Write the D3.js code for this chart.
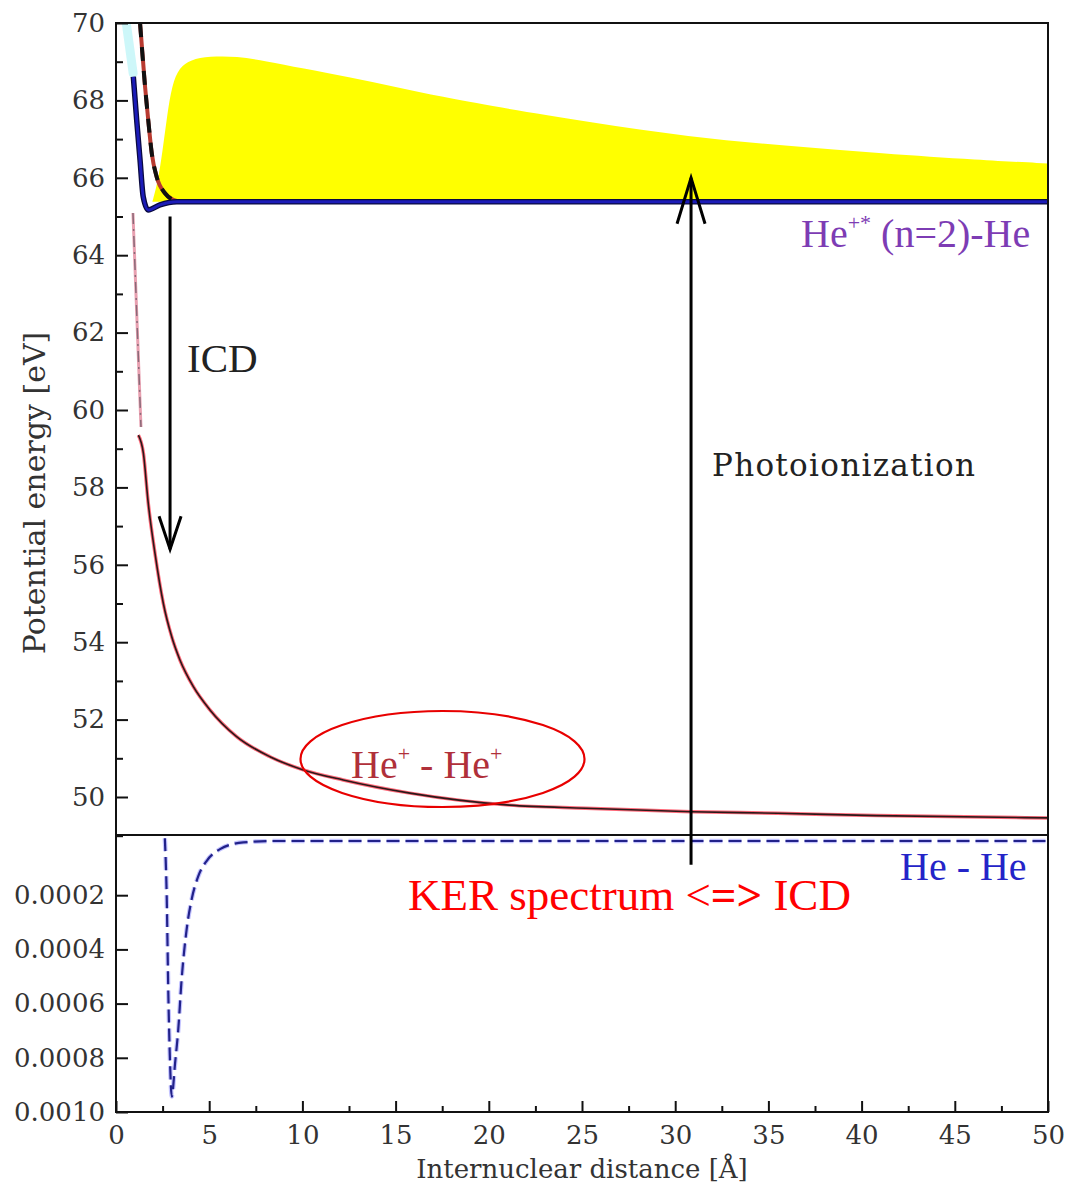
<!DOCTYPE html>
<html>
<head>
<meta charset="utf-8">
<title>He2 ICD potential curves</title>
<script src="https://cdn.jsdelivr.net/npm/d3@7"></script>
<style>
    body { margin: 0; background: #fff; }
    .axis text { font-family: "DejaVu Serif", serif; font-size: 26px; fill: #333; }
    .axis path { display: none; }
    .axis line { stroke: #111; stroke-width: 2; }
    .lbl { font-family: "Liberation Serif", "Times New Roman", serif; }
</style>
</head>
<body>
<script>
// yellow photoionization band (top edge), baseline = plateau level
var bandX   = [1.95, 2.25, 2.5, 2.74, 3.0, 3.4, 4.0, 5.0, 6.5, 8.0, 10.0, 12.5, 15.0, 17.5, 20.3, 25.5, 30.7, 35.9, 41.1, 46.3, 50];
var bandTop = [65.38, 65.9, 66.7, 67.6, 68.4, 68.85, 69.05, 69.14, 69.14, 69.02, 68.83, 68.6, 68.35, 68.09, 67.84, 67.43, 67.06, 66.83, 66.63, 66.46, 66.37];
var plateau = 65.38;

// He+*(n=2)-He (solid blue)
var excX = [0.93, 1.11, 1.29, 1.46, 1.73, 2.36, 3.26, 10, 50];
var excE = [68.61, 67.49, 66.46, 65.51, 65.17, 65.30, 65.38, 65.38, 65.38];

// second excited curve (red/black dashed)
var dshX = [1.29, 1.56, 1.73, 1.92, 2.18, 2.63, 3.07, 3.54, 10, 50];
var dshE = [70.0, 68.35, 67.49, 66.63, 66.03, 65.60, 65.43, 65.38, 65.38, 65.38];

// light cyan trace at the top left
var cyanX = [0.55, 0.75, 0.92];
var cyanE = [70.0, 69.3, 68.7];

// pink dash-dot connector
var linkX = [0.91, 1.34];
var linkE = [65.09, 59.56];

// He+ - He+ Coulomb curve
var coulX = [1.20, 1.47, 1.73, 2.09, 2.54, 2.99, 3.43, 4.15, 5.04, 6.47, 8.26, 10.05, 12.19, 15.77, 21.1, 25.2, 30.87, 35.5, 40.8, 50];
var coulE = [59.35, 58.88, 57.59, 56.30, 55.00, 54.14, 53.54, 52.85, 52.25, 51.56, 51.04, 50.70, 50.44, 50.10, 49.79, 49.71, 49.62, 49.58, 49.52, 49.46];

// He - He ground state (lower panel)
var gndX = [2.62, 2.72, 2.81, 2.90, 2.99, 3.17, 3.34, 3.52, 3.79, 4.06, 4.42, 4.87, 5.58, 6.83, 8.62, 15, 50];
var gndE = [0.00001, -0.000203, -0.000573, -0.00082, -0.000943, -0.00082, -0.000696, -0.000511, -0.000326, -0.000215, -0.000129, -0.000073, -0.00003, -0.000005, 0, 0, 0];

var topTicks = [50, 52, 54, 56, 58, 60, 62, 64, 66, 68, 70];
var topMinor = [49, 51, 53, 55, 57, 59, 61, 63, 65, 67, 69];
var lowTicks = [-0.0002, -0.0004, -0.0006, -0.0008, -0.0010];
var xTicks = [0, 5, 10, 15, 20, 25, 30, 35, 40, 45, 50];
var xMinor = [2.5, 7.5, 12.5, 17.5, 22.5, 27.5, 32.5, 37.5, 42.5, 47.5];

// arrows: [x, from, to]
var icdArrow = [2.9, 65.0, 56.4];
var photoArrow = [30.85, 48.25, 66.0];

(function () {
    var W = 1072, H = 1194;
    var pLeft = 116, pRight = 1048, pTop = 23, pMid = 835, pBottom = 1112;

    var x = d3.scaleLinear().domain([0, 50]).range([pLeft, pRight]);
    var yTop = d3.scaleLinear().domain([50, 70]).range([797, pTop]);
    var yLow = d3.scaleLinear().domain([0, -0.001]).range([841, pBottom]);

    var svg = d3.select("body").append("svg")
        .attr("width", W)
        .attr("height", H);

    var defs = svg.append("defs");
    defs.append("clipPath").attr("id", "clipTop").append("rect")
        .attr("x", pLeft).attr("y", pTop).attr("width", pRight - pLeft).attr("height", pMid - pTop);
    defs.append("clipPath").attr("id", "clipLow").append("rect")
        .attr("x", pLeft).attr("y", pMid).attr("width", pRight - pLeft).attr("height", pBottom - pMid);

    var upper = svg.append("g").attr("clip-path", "url(#clipTop)");
    var lower = svg.append("g").attr("clip-path", "url(#clipLow)");

    function zipped(xs, ys) {
        return xs.map(function (d, i) { return [d, ys[i]]; });
    }

    var lineTop = d3.line()
        .x(function (d) { return x(d[0]); })
        .y(function (d) { return yTop(d[1]); })
        .curve(d3.curveMonotoneX);

    // yellow band
    upper.append("path")
        .datum(zipped(bandX, bandTop))
        .attr("fill", "#ffff00")
        .attr("d", d3.area()
            .x(function (d) { return x(d[0]); })
            .y0(yTop(plateau))
            .y1(function (d) { return yTop(d[1]); })
            .curve(d3.curveBasis));

    // cyan trace
    upper.append("path")
        .datum(zipped(cyanX, cyanE))
        .attr("fill", "none")
        .attr("stroke", "#b8f4f6")
        .attr("stroke-width", 9)
        .attr("stroke-linecap", "round")
        .attr("opacity", 0.7)
        .attr("d", lineTop);

    // pink dash-dot
    upper.append("path")
        .datum(zipped(linkX, linkE))
        .attr("fill", "none")
        .attr("stroke", "#e8a0b0")
        .attr("stroke-width", 3)
        .attr("d", lineTop);
    upper.append("path")
        .datum(zipped(linkX, linkE))
        .attr("fill", "none")
        .attr("stroke", "#8a6a78")
        .attr("stroke-width", 1.5)
        .attr("stroke-dasharray", "11,5,2,5")
        .attr("d", lineTop);

    // Coulomb curve: red under black
    upper.append("path")
        .datum(zipped(coulX, coulE))
        .attr("fill", "none")
        .attr("stroke", "#ff6a7a")
        .attr("stroke-width", 3.5)
        .attr("d", lineTop);
    upper.append("path")
        .datum(zipped(coulX, coulE))
        .attr("fill", "none")
        .attr("stroke", "#2a1a1a")
        .attr("stroke-width", 1.6)
        .attr("d", lineTop);

    // dashed red/black curve
    upper.append("path")
        .datum(zipped(dshX, dshE))
        .attr("fill", "none")
        .attr("stroke", "#b83a30")
        .attr("stroke-width", 4)
        .attr("d", lineTop);
    upper.append("path")
        .datum(zipped(dshX, dshE))
        .attr("fill", "none")
        .attr("stroke", "#111")
        .attr("stroke-width", 4)
        .attr("stroke-dasharray", "14,10")
        .attr("d", lineTop);

    // solid blue curve
    upper.append("path")
        .datum(zipped(excX, excE))
        .attr("fill", "none")
        .attr("stroke", "#0a0a40")
        .attr("stroke-width", 5.5)
        .attr("d", lineTop);
    upper.append("path")
        .datum(zipped(excX, excE))
        .attr("fill", "none")
        .attr("stroke", "#1c1cb8")
        .attr("stroke-width", 3)
        .attr("d", lineTop);

    // lower panel dashed ground state
    var lineLow = d3.line()
        .x(function (d) { return x(d[0]); })
        .y(function (d) { return yLow(d[1]); })
        .curve(d3.curveMonotoneX);

    lower.append("path")
        .datum(zipped(gndX, gndE))
        .attr("fill", "none")
        .attr("stroke", "#c4c4ff")
        .attr("stroke-width", 4.5)
        .attr("stroke-dasharray", "13,6")
        .attr("d", lineLow);
    lower.append("path")
        .datum(zipped(gndX, gndE))
        .attr("fill", "none")
        .attr("stroke", "#22228a")
        .attr("stroke-width", 2.2)
        .attr("stroke-dasharray", "13,6")
        .attr("d", lineLow);

    // frames
    svg.append("rect")
        .attr("x", pLeft).attr("y", pTop).attr("width", pRight - pLeft).attr("height", pMid - pTop)
        .attr("fill", "none").attr("stroke", "#111").attr("stroke-width", 2);
    svg.append("rect")
        .attr("x", pLeft).attr("y", pMid).attr("width", pRight - pLeft).attr("height", pBottom - pMid)
        .attr("fill", "none").attr("stroke", "#111").attr("stroke-width", 2);

    // axes
    svg.append("g").attr("class", "axis")
        .attr("transform", "translate(" + pLeft + ",0)")
        .call(d3.axisLeft(yTop).tickValues(topTicks).tickSize(-12).tickPadding(11).tickFormat(d3.format("d")));
    svg.append("g").attr("class", "axis")
        .attr("transform", "translate(" + pLeft + ",0)")
        .call(d3.axisLeft(yTop).tickValues(topMinor).tickSize(-7).tickFormat(""));
    svg.append("g").attr("class", "axis")
        .attr("transform", "translate(" + pLeft + ",0)")
        .call(d3.axisLeft(yLow).tickValues(lowTicks).tickSize(-12).tickPadding(11)
            .tickFormat(function (d) { return Math.abs(d).toFixed(4); }));
    svg.append("g").attr("class", "axis")
        .attr("transform", "translate(0," + pBottom + ")")
        .call(d3.axisBottom(x).tickValues(xTicks).tickSize(-11).tickPadding(14).tickFormat(d3.format("d")));
    svg.append("g").attr("class", "axis")
        .attr("transform", "translate(0," + pBottom + ")")
        .call(d3.axisBottom(x).tickValues(xMinor).tickSize(-6).tickFormat(""));

    // axis titles
    svg.append("text")
        .attr("x", (pLeft + pRight) / 2)
        .attr("y", 1178)
        .attr("text-anchor", "middle")
        .style("font-family", "DejaVu Serif, serif")
        .style("font-size", "26px")
        .style("fill", "#333")
        .text("Internuclear distance [Å]");

    svg.append("text")
        .attr("transform", "translate(45,493) rotate(-90)")
        .attr("text-anchor", "middle")
        .style("font-family", "DejaVu Serif, serif")
        .style("font-size", "30px")
        .style("fill", "#333")
        .text("Potential energy [eV]");

    // arrows
    function arrow(a, scaleY, armW, armH) {
        var xx = x(a[0]), y0 = scaleY(a[1]), y1 = scaleY(a[2]);
        var dir = y1 > y0 ? -1 : 1;
        var g = svg.append("g").attr("stroke", "#000").attr("stroke-width", 3).attr("fill", "none");
        g.append("line").attr("x1", xx).attr("x2", xx).attr("y1", y0).attr("y2", y1);
        g.append("path")
            .attr("stroke-linejoin", "miter")
            .attr("d", "M" + (xx - armW) + "," + (y1 + dir * armH) + "L" + xx + "," + y1 + "L" + (xx + armW) + "," + (y1 + dir * armH));
    }
    arrow(icdArrow, yTop, 11, 33);
    arrow(photoArrow, yTop, 14, 46);

    // annotations
    svg.append("text").attr("class", "lbl")
        .attr("x", 187).attr("y", 372)
        .style("font-size", "41px").style("fill", "#222")
        .text("ICD");

    svg.append("text")
        .attr("x", 712).attr("y", 476)
        .attr("textLength", 263)
        .attr("lengthAdjust", "spacing")
        .style("font-family", "DejaVu Serif, serif")
        .style("font-size", "31px").style("fill", "#222")
        .text("Photoionization");

    var t1 = svg.append("text").attr("class", "lbl")
        .attr("x", 801).attr("y", 247)
        .style("font-size", "40px").style("fill", "#7d3cb4");
    t1.append("tspan").text("He");
    t1.append("tspan").attr("dy", -17).style("font-size", "22px").text("+*");
    t1.append("tspan").attr("dy", 17).text(" (n=2)-He");

    var t2 = svg.append("text").attr("class", "lbl")
        .attr("x", 351).attr("y", 778)
        .style("font-size", "40px").style("fill", "#b0303a");
    t2.append("tspan").text("He");
    t2.append("tspan").attr("dy", -17).style("font-size", "22px").text("+");
    t2.append("tspan").attr("dy", 17).text(" - He");
    t2.append("tspan").attr("dy", -17).style("font-size", "22px").text("+");

    svg.append("ellipse")
        .attr("cx", 442.5).attr("cy", 759)
        .attr("rx", 142).attr("ry", 48)
        .attr("fill", "none")
        .attr("stroke", "#e80000")
        .attr("stroke-width", 2.2);

    svg.append("text").attr("class", "lbl")
        .attr("x", 900).attr("y", 880)
        .style("font-size", "40px").style("fill", "#2424c8")
        .text("He - He");

    var t3 = svg.append("text").attr("class", "lbl")
        .attr("x", 408).attr("y", 910)
        .style("font-size", "45px").style("fill", "#ff0000");
    t3.append("tspan").text("KER spectrum <");
    t3.append("tspan").style("font-weight", "bold").text("=>");
    t3.append("tspan").text(" ICD");
})();
</script>
</body>
</html>
